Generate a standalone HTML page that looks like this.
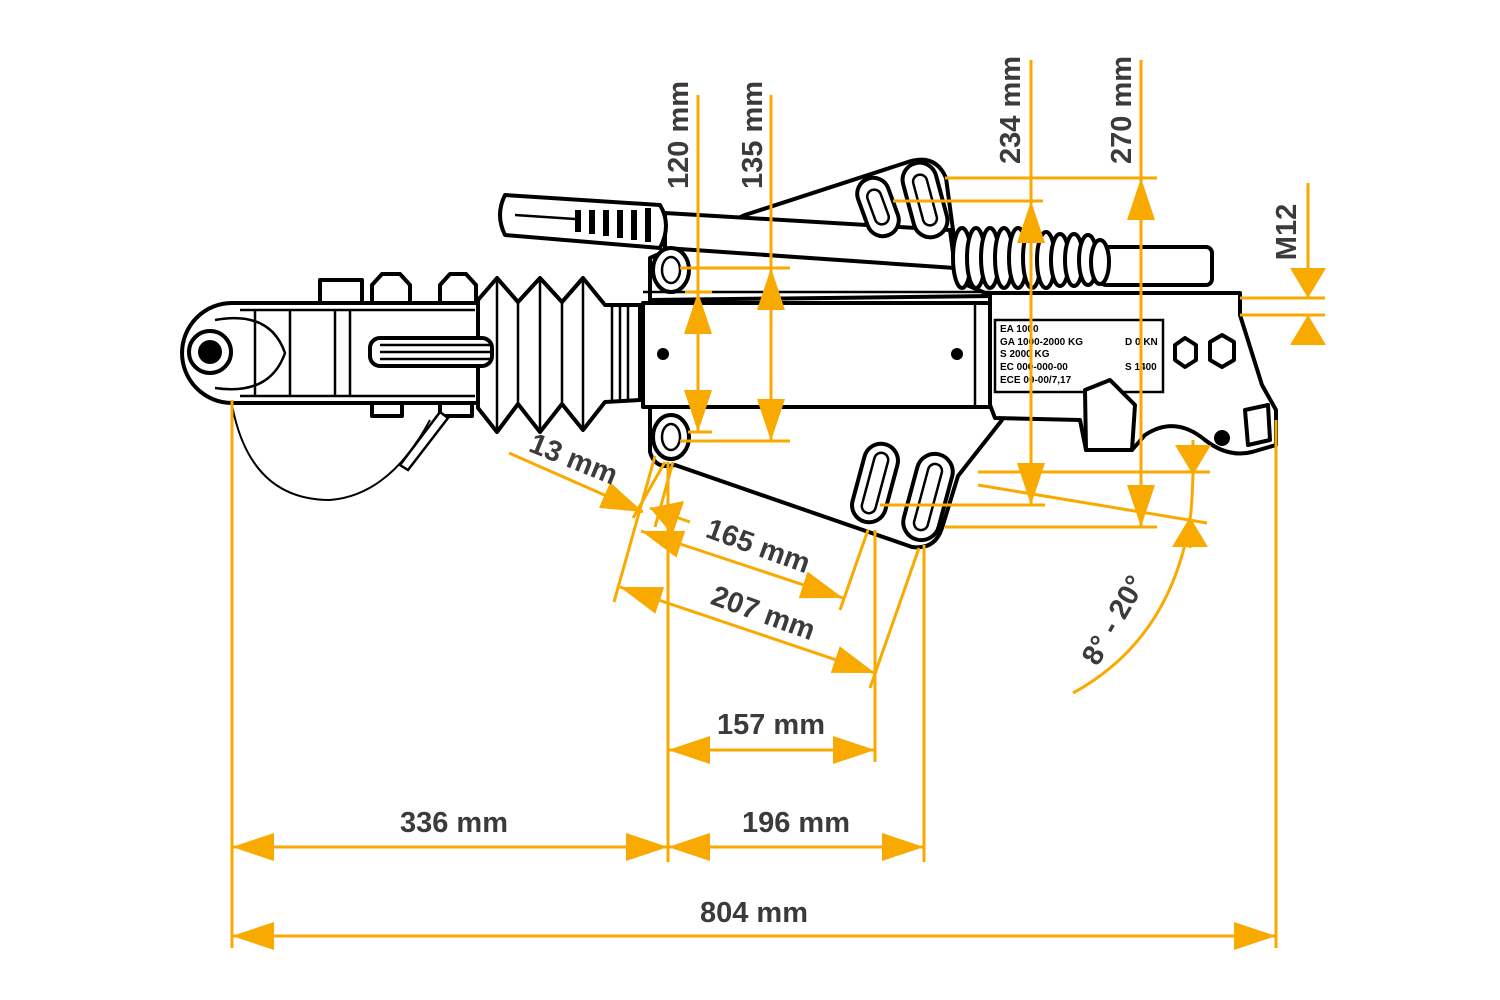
<!DOCTYPE html>
<html><head><meta charset="utf-8"><style>
html,body{margin:0;padding:0;background:#fff;width:1500px;height:1000px;overflow:hidden}
svg{display:block}
.o{stroke:#F9AA00;stroke-width:3;fill:none}
.t{font-family:"Liberation Sans",sans-serif;font-weight:bold;font-size:29px;fill:#3b3b3b}
.k{stroke:#000;stroke-width:4;fill:#fff;stroke-linejoin:round}
.k2{stroke:#000;stroke-width:2.5;fill:none}
</style></head><body>
<svg width="1500" height="1000" viewBox="0 0 1500 1000" xmlns="http://www.w3.org/2000/svg">
<defs>
<marker id="a" viewBox="0 0 42 28" refX="42" refY="14" markerUnits="userSpaceOnUse" markerWidth="42" markerHeight="30" orient="auto-start-reverse"><path d="M0,0 L42,14 L0,28 Z" fill="#F9AA00"/></marker>
<marker id="s" viewBox="0 0 30 36" refX="30" refY="18" markerUnits="userSpaceOnUse" markerWidth="30" markerHeight="36" orient="auto-start-reverse"><path d="M0,0 L30,18 L0,36 Z" fill="#F9AA00"/></marker>
</defs>

<!-- upper plate -->
<path class="k" d="M650,300 L650,258 L745,215 L905,163 Q935,152 946,178 L960,282 L992,296 Z"/>
<!-- lower plate -->
<path class="k" d="M650,405 L650,452 Q655,470 675,465 L912,547 Q935,550 942,528 L958,476 L1002,420 L990,405 Z" stroke-width="4.5"/>
<!-- handbrake lever -->
<path class="k" d="M665,213 L950,230 L955,268 L665,248 Z"/>
<path class="k" d="M505,195 L660,205 Q672,225 660,248 L505,235 Q495,215 505,195 Z"/>
<g stroke="#000" stroke-width="6">
<line x1="578" y1="210" x2="578" y2="232"/><line x1="592" y1="210" x2="592" y2="234"/><line x1="606" y1="210" x2="606" y2="236"/><line x1="620" y1="210" x2="620" y2="238"/><line x1="634" y1="210" x2="634" y2="240"/><line x1="648" y1="208" x2="648" y2="242"/>
</g>
<line class="k2" x1="515" y1="215" x2="575" y2="219"/>
<!-- spring rod -->
<rect class="k" x="1100" y="247" width="112" height="38" rx="6"/>
<g class="k" stroke-width="4.5">
<ellipse cx="962" cy="258" rx="9" ry="30"/><ellipse cx="976" cy="258" rx="9" ry="30"/><ellipse cx="990" cy="258" rx="9" ry="30"/><ellipse cx="1004" cy="258" rx="9" ry="30"/><ellipse cx="1018" cy="258" rx="9" ry="30"/><ellipse cx="1032" cy="258" rx="9" ry="30"/><ellipse cx="1046" cy="260" rx="9" ry="28"/><ellipse cx="1060" cy="260" rx="9" ry="26"/><ellipse cx="1074" cy="260" rx="9" ry="26"/><ellipse cx="1088" cy="260" rx="9" ry="25"/><ellipse cx="1100" cy="262" rx="9" ry="22"/>
</g>
<!-- rear block -->
<path class="k" d="M990,293 L1240,293 L1240,315 L1262,385 L1276,410 L1276,445 L1252,452 Q1228,458 1205,440 Q1175,415 1145,435 L1132,450 L1086,450 L1080,420 L995,418 L990,405 Z"/>
<rect class="k2" x="995" y="320" width="168" height="72"/>
<g font-family="Liberation Sans,sans-serif" font-size="10" font-weight="bold" fill="#000">
<text x="1000" y="332">EA 1000</text><text x="1000" y="345">GA 1000-2000 KG</text><text x="1000" y="357">S 2000 KG</text><text x="1000" y="370">EC 000-000-00</text><text x="1000" y="383">ECE 00-00/7,17</text>
<text x="1125" y="345">D 0 KN</text><text x="1125" y="370">S 1400</text>
</g>
<polygon class="k" points="1175,345 1185,338 1196,345 1196,360 1185,367 1175,360"/>
<polygon class="k" points="1210,342 1222,335 1234,342 1234,360 1222,367 1210,360"/>
<circle cx="1222" cy="438" r="8" fill="#000"/>
<path class="k" d="M1085,390 L1110,380 L1135,405 L1132,450 L1086,450 Z"/>
<path class="k" d="M1245,410 L1268,405 L1270,440 L1248,445 Z"/>
<!-- main tube -->
<rect class="k" x="643" y="303" width="347" height="104"/>
<line class="k2" x1="643" y1="292" x2="990" y2="292"/>
<line class="k2" x1="975" y1="303" x2="975" y2="407"/>
<circle cx="663" cy="354" r="6" fill="#000"/><circle cx="957" cy="354" r="6" fill="#000"/>
<!-- mounting holes -->
<g class="k" stroke-width="4.5">
<ellipse cx="671" cy="270" rx="18" ry="22"/><ellipse cx="671" cy="437" rx="18" ry="22"/>
<rect x="862" y="177" width="32" height="60" rx="16" transform="rotate(-20 878 207)"/>
<rect x="908" y="162" width="34" height="76" rx="17" transform="rotate(-15 925 200)"/>
<rect x="858" y="443" width="34" height="80" rx="17" transform="rotate(15 875 483)"/>
<rect x="910" y="453" width="36" height="88" rx="18" transform="rotate(15 928 497)"/>
</g>
<g class="k2">
<ellipse cx="671" cy="270" rx="9" ry="13"/><ellipse cx="671" cy="437" rx="9" ry="13"/>
<rect x="868" y="452" width="14" height="62" rx="7" transform="rotate(15 875 483)"/>
<rect x="921" y="463" width="14" height="68" rx="7" transform="rotate(15 928 497)"/>
<rect x="918" y="174" width="14" height="52" rx="7" transform="rotate(-15 925 200)"/>
<rect x="871" y="189" width="14" height="36" rx="7" transform="rotate(-20 878 207)"/>
</g>
<!-- bellows -->
<path class="k" d="M478,300 L497,278 L518,302 L540,278 L562,302 L583,278 L605,305 L640,305 L640,400 L605,402 L583,430 L562,404 L540,432 L518,404 L497,432 L478,408 Z"/>
<g class="k2"><line x1="497" y1="280" x2="497" y2="430"/><line x1="518" y1="302" x2="518" y2="404"/><line x1="540" y1="280" x2="540" y2="430"/><line x1="562" y1="302" x2="562" y2="404"/><line x1="583" y1="280" x2="583" y2="428"/><line x1="612" y1="305" x2="612" y2="400"/><line x1="620" y1="305" x2="620" y2="400"/><line x1="628" y1="305" x2="628" y2="400"/></g>
<!-- coupling head -->
<rect class="k" x="320" y="280" width="42" height="26"/>
<polygon class="k" points="372,285 382,274 400,274 410,285 410,305 372,305"/>
<polygon class="k" points="440,285 450,274 466,274 476,285 476,305 440,305"/>
<rect class="k" x="372" y="400" width="30" height="16"/><rect class="k" x="440" y="400" width="32" height="16"/>
<path class="k" d="M232,303 L478,303 L478,403 L232,403 A50,50 0 0 1 232,303 Z" stroke-width="4.5"/>
<path class="k2" d="M240,310 L475,310 M240,396 L475,396 M255,310 L255,396 M290,310 L290,396 M335,310 L335,396 M350,310 L350,396"/>
<path class="k2" d="M215,320 Q270,310 285,353 Q270,396 215,388"/>
<rect class="k" x="370" y="338" width="122" height="28" rx="10"/>
<path class="k2" d="M380,345 L490,345 M380,352 L490,352 M380,359 L490,359"/>
<circle cx="210" cy="352" r="21" fill="#fff" stroke="#000" stroke-width="4"/>
<circle cx="210" cy="352" r="12" fill="#000"/>
<path d="M232,405 Q250,500 330,500 Q390,495 430,420" fill="none" stroke="#000" stroke-width="2"/>
<path d="M400,465 L440,412 L448,418 L408,470 Z" fill="#fff" stroke="#000" stroke-width="2.5"/>

<!-- dimensions -->
<g class="o">
<line x1="232" y1="400" x2="232" y2="948"/>
<line x1="668" y1="462" x2="668" y2="862"/>
<line x1="875" y1="530" x2="875" y2="762"/>
<line x1="924" y1="545" x2="924" y2="862"/>
<line x1="1276" y1="420" x2="1276" y2="948"/>
<line x1="680" y1="268" x2="790" y2="268"/><line x1="685" y1="292" x2="712" y2="292"/>
<line x1="688" y1="432" x2="712" y2="432"/><line x1="680" y1="441" x2="790" y2="441"/>
<line x1="945" y1="178" x2="1157" y2="178"/><line x1="893" y1="201" x2="1043" y2="201"/>
<line x1="978" y1="472" x2="1210" y2="472"/><line x1="880" y1="505" x2="1045" y2="505"/>
<line x1="945" y1="527" x2="1157" y2="527"/><line x1="978" y1="485" x2="1207" y2="523"/>
<line x1="1240" y1="298" x2="1325" y2="298"/><line x1="1240" y1="315" x2="1325" y2="315"/>
<line x1="655" y1="456" x2="614" y2="602"/><line x1="665" y1="462" x2="633" y2="518"/><line x1="673" y1="462" x2="655" y2="527"/>
<line x1="868" y1="530" x2="840" y2="610"/><line x1="919" y1="548" x2="870" y2="688"/>
<line x1="698" y1="95" x2="698" y2="292"/>
<line x1="771" y1="95" x2="771" y2="268"/>
<line x1="1031" y1="60" x2="1031" y2="201"/>
<line x1="1141" y1="60" x2="1141" y2="178"/>
<line x1="232" y1="936" x2="1276" y2="936" marker-start="url(#a)" marker-end="url(#a)"/>
<line x1="232" y1="847" x2="668" y2="847" marker-start="url(#a)" marker-end="url(#a)"/>
<line x1="668" y1="847" x2="924" y2="847" marker-start="url(#a)" marker-end="url(#a)"/>
<line x1="668" y1="750" x2="875" y2="750" marker-start="url(#a)" marker-end="url(#a)"/>
<line x1="698" y1="292" x2="698" y2="432" marker-start="url(#a)" marker-end="url(#a)"/>
<line x1="771" y1="268" x2="771" y2="441" marker-start="url(#a)" marker-end="url(#a)"/>
<line x1="1031" y1="201" x2="1031" y2="505" marker-start="url(#a)" marker-end="url(#a)"/>
<line x1="1141" y1="178" x2="1141" y2="527" marker-start="url(#a)" marker-end="url(#a)"/>
<line x1="1308" y1="183" x2="1308" y2="298" marker-end="url(#s)"/>
<line x1="1308" y1="345" x2="1308" y2="315" marker-end="url(#s)"/>
<line x1="509" y1="453" x2="643" y2="512" marker-end="url(#a)"/>
<line x1="690" y1="522" x2="650" y2="508" marker-end="url(#s)"/>
<line x1="641" y1="531" x2="843" y2="598" marker-start="url(#a)" marker-end="url(#a)"/>
<line x1="620" y1="587" x2="875" y2="673" marker-start="url(#a)" marker-end="url(#a)"/>
<line x1="1193" y1="440" x2="1193" y2="475" marker-end="url(#s)"/>
<line x1="1190" y1="548" x2="1190" y2="517" marker-end="url(#s)"/>
<path d="M1193,475 Q1192,505 1190,520 Q1170,640 1073,693"/>
</g>

<text class="t" x="754" y="922" text-anchor="middle">804 mm</text>
<text class="t" x="454" y="832" text-anchor="middle">336 mm</text>
<text class="t" x="796" y="832" text-anchor="middle">196 mm</text>
<text class="t" x="771" y="734" text-anchor="middle">157 mm</text>
<text class="t" text-anchor="middle" transform="translate(688,135) rotate(-90)">120 mm</text>
<text class="t" text-anchor="middle" transform="translate(762,135) rotate(-90)">135 mm</text>
<text class="t" text-anchor="middle" transform="translate(1020,110) rotate(-90)">234 mm</text>
<text class="t" text-anchor="middle" transform="translate(1131,110) rotate(-90)">270 mm</text>
<text class="t" text-anchor="middle" transform="translate(1296,232) rotate(-90)">M12</text>
<text class="t" text-anchor="middle" transform="translate(570,468) rotate(22)">13 mm</text>
<text class="t" text-anchor="middle" transform="translate(755,555) rotate(20)">165 mm</text>
<text class="t" text-anchor="middle" transform="translate(760,622) rotate(20)">207 mm</text>
<text class="t" text-anchor="middle" transform="translate(1122,625) rotate(-60)">8° - 20°</text>
</svg>
</body></html>
